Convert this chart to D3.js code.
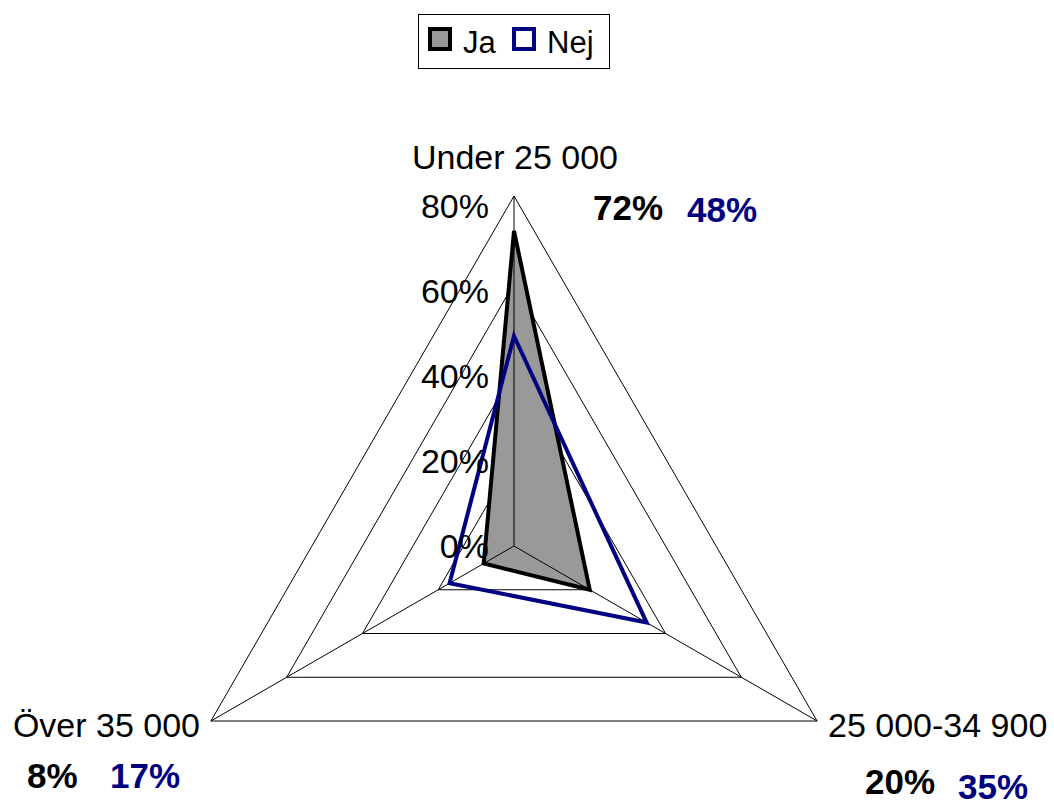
<!DOCTYPE html>
<html>
<head>
<meta charset="utf-8">
<script src="https://cdn.jsdelivr.net/npm/d3@7"></script>
<style>
  body { margin: 0; background: #fff; }
  svg { font-family: "Liberation Sans", Arial, sans-serif; }
</style>
</head>
<body>
<svg id="chart" width="1054" height="803"></svg>
<script>
var categories = ['Under 25 000', '25 000-34 900', 'Över 35 000']
var ja = [72, 20, 8]
var nej = [48, 35, 17]
var ticks = [0, 20, 40, 60, 80]
var seriesNames = ['Ja', 'Nej']

var svg = d3.select('#chart')
var cx = 514, cy = 546, R = 350
var r = d3.scaleLinear().domain([0, 80]).range([0, R])
// tick labels sit a little tighter than the rings
var ty = d3.scaleLinear().domain([0, 80]).range([cy, cy - 340])
var angle = function(i) { return i * 2 * Math.PI / categories.length }
var pt = function(i, v) { return [cx + r(v) * Math.sin(angle(i)), cy - r(v) * Math.cos(angle(i))] }

var g = svg.append('g')

// rings
ticks.slice(1).forEach(function(t) {
  g.append('polygon')
    .attr('points', categories.map(function(c, i) { return pt(i, t).join(',') }).join(' '))
    .attr('fill', 'none').attr('stroke', '#000').attr('stroke-width', 1)
})

var line = d3.line().curve(d3.curveLinearClosed)

// Ja filled
g.append('path')
  .attr('d', line(ja.map(function(v, i) { return pt(i, v) })))
  .attr('fill', '#999999').attr('stroke', 'none')

// spokes
categories.forEach(function(c, i) {
  var p = pt(i, 80)
  g.append('line').attr('x1', cx).attr('y1', cy).attr('x2', p[0]).attr('y2', p[1])
    .attr('stroke', '#000').attr('stroke-width', 1)
})

g.append('path')
  .attr('d', line(ja.map(function(v, i) { return pt(i, v) })))
  .attr('fill', 'none').attr('stroke', '#000').attr('stroke-width', 4).attr('stroke-linejoin', 'miter')

g.append('path')
  .attr('d', line(nej.map(function(v, i) { return pt(i, v) })))
  .attr('fill', 'none').attr('stroke', '#000080').attr('stroke-width', 4).attr('stroke-linejoin', 'miter')

// tick labels
ticks.forEach(function(t) {
  g.append('text').attr('x', 489).attr('y', ty(t) + 12)
    .attr('text-anchor', 'end').attr('font-size', 34).text(t + '%')
})

// category labels
var catPos = [
  { x: 515, y: 169, anchor: 'middle' },
  { x: 828, y: 737, anchor: 'start' },
  { x: 200, y: 737, anchor: 'end' }
]
categories.forEach(function(c, i) {
  g.append('text').attr('x', catPos[i].x).attr('y', catPos[i].y)
    .attr('text-anchor', catPos[i].anchor).attr('font-size', 34).text(c)
})

// value labels
var valPos = [
  { ja: [593, 220], nej: [687, 222] },
  { ja: [865, 794], nej: [958, 799] },
  { ja: [27, 788], nej: [110, 788] }
]
categories.forEach(function(c, i) {
  g.append('text').attr('x', valPos[i].ja[0]).attr('y', valPos[i].ja[1])
    .attr('font-size', 35).attr('font-weight', 'bold').attr('fill', '#000').text(ja[i] + '%')
  g.append('text').attr('x', valPos[i].nej[0]).attr('y', valPos[i].nej[1])
    .attr('font-size', 35).attr('font-weight', 'bold').attr('fill', '#000080').text(nej[i] + '%')
})

// legend
var lg = svg.append('g')
lg.append('rect').attr('x', 418.5).attr('y', 14.5).attr('width', 191).attr('height', 54)
  .attr('fill', '#fff').attr('stroke', '#000').attr('stroke-width', 1)
var sw = [
  { x: 430, fill: '#999999', stroke: '#000', tx: 463 },
  { x: 514, fill: '#fff', stroke: '#000080', tx: 547 }
]
seriesNames.forEach(function(n, i) {
  lg.append('rect').attr('x', sw[i].x).attr('y', 29).attr('width', 20).attr('height', 20)
    .attr('fill', sw[i].fill).attr('stroke', sw[i].stroke).attr('stroke-width', 4)
  lg.append('text').attr('x', sw[i].tx).attr('y', 53).attr('font-size', 31).text(n)
})
</script>
</body>
</html>
